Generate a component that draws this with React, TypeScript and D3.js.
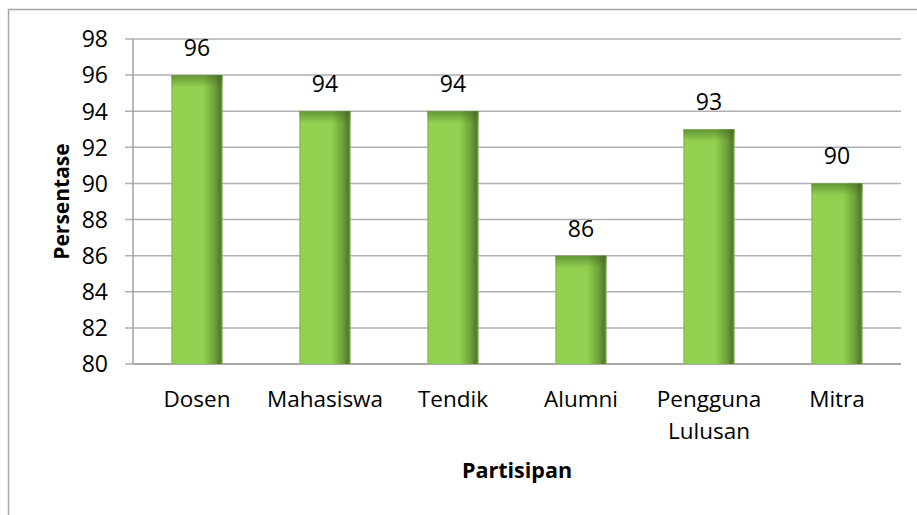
import React from 'react';
import { scaleBand, scaleLinear } from 'd3';

const categories = ['Dosen', 'Mahasiswa', 'Tendik', 'Alumni', 'Pengguna Lulusan', 'Mitra'];
const values = [96, 94, 94, 86, 93, 90];
const yTicks = [80, 82, 84, 86, 88, 90, 92, 94, 96, 98];

const font = '"Open Sans", "Noto Sans", sans-serif';

const App = () => {
  const width = 917;
  const height = 515;
  const left = 133;
  const right = 901;
  const top = 39;
  const bottom = 364;

  const x = scaleBand<string>()
    .domain(categories)
    .range([left, right])
    .paddingInner(0.6)
    .paddingOuter(0.3);

  const y = scaleLinear().domain([80, 98]).range([bottom, top]);

  return (
    <svg width={width} height={height} style={{ position: 'absolute', left: 0, top: 0 }}>
      <defs>
        <linearGradient id="barH" x1="0" y1="0" x2="1" y2="0">
          <stop offset="0%" stopColor="#7fb444" />
          <stop offset="4%" stopColor="#92d050" />
          <stop offset="62%" stopColor="#92d050" />
          <stop offset="85%" stopColor="#6fa03a" />
          <stop offset="95%" stopColor="#527a2a" />
          <stop offset="100%" stopColor="#79ac43" />
        </linearGradient>
        <linearGradient id="barV" x1="0" y1="0" x2="0" y2="1">
          <stop offset="0%" stopColor="#3e6420" stopOpacity={0.55} />
          <stop offset="100%" stopColor="#3e6420" stopOpacity={0} />
        </linearGradient>
      </defs>
      <rect x={0} y={0} width={width} height={height} fill="#fff" />
      <rect x={8.5} y={9.5} width={width + 20} height={height + 20} fill="none" stroke="#a6a6a6" strokeWidth={1.5} />

      {yTicks.map(t => (
        <g key={t}>
          <line x1={left - 8} x2={right} y1={y(t)} y2={y(t)} stroke="#b0b0b0" strokeWidth={1.5} />
          <text x={108} y={y(t)} dy="0.36em" textAnchor="end" fontFamily={font} fontSize={23} fill="#000">
            {t}
          </text>
        </g>
      ))}
      <line x1={left} x2={left} y1={top} y2={bottom} stroke="#a0a0a0" strokeWidth={1.5} />
      <line x1={left} x2={right} y1={bottom} y2={bottom} stroke="#a0a0a0" strokeWidth={1.5} />

      {categories.map((c, i) => {
        const bx = x(c) as number;
        const bw = x.bandwidth();
        const by = y(values[i]);
        const bh = bottom - by;
        const lines = c === 'Pengguna Lulusan' ? ['Pengguna', 'Lulusan'] : [c];
        return (
          <g key={c}>
            <rect x={bx} y={by} width={bw} height={bh} fill="url(#barH)" />
            <rect x={bx} y={by} width={bw} height={Math.min(12, bh)} fill="url(#barV)" />
            <text x={bx + bw / 2} y={by - 19} textAnchor="middle" fontFamily={font} fontSize={23} fill="#000">
              {values[i]}
            </text>
            {lines.map((l, j) => (
              <text key={l} x={bx + bw / 2} y={407 + j * 32} textAnchor="middle" fontFamily={font} fontSize={22.5} fill="#000">
                {l}
              </text>
            ))}
          </g>
        );
      })}

      <text
        transform={`translate(69,${(top + bottom) / 2}) rotate(-90)`}
        textAnchor="middle"
        fontFamily={font}
        fontSize={21}
        fontWeight="bold"
        fill="#000"
      >
        Persentase
      </text>
      <text x={(left + right) / 2} y={478} textAnchor="middle" fontFamily={font} fontSize={21.5} fontWeight="bold" fill="#000">
        Partisipan
      </text>
    </svg>
  );
};

export default App;
